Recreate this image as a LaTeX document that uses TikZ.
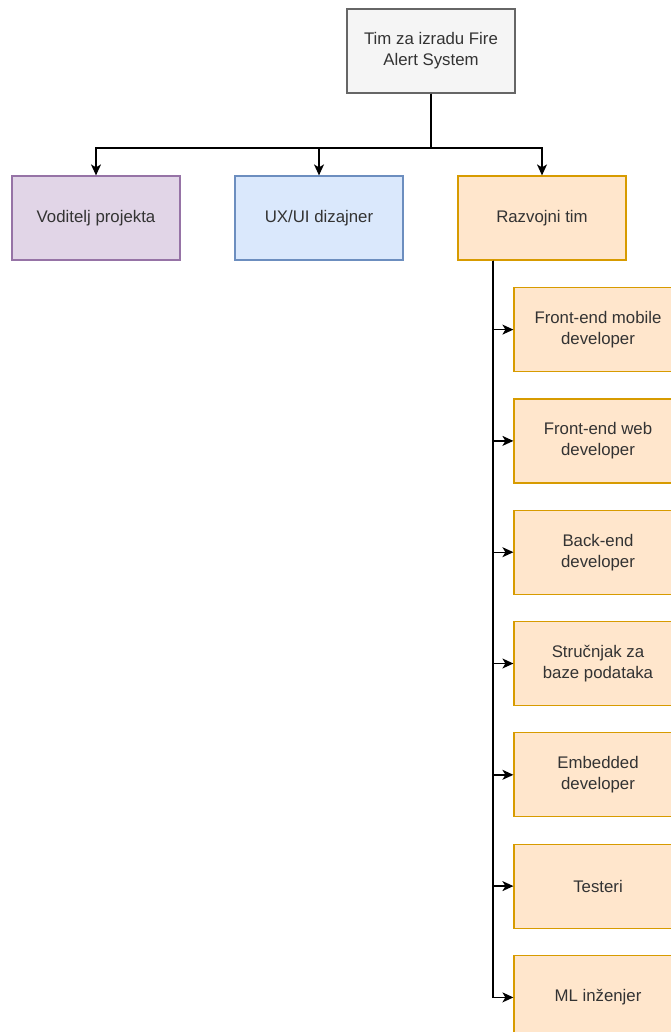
\documentclass[tikz,border=0pt]{standalone}
\usepackage{fontspec}
\setmainfont{Liberation Sans}
\usetikzlibrary{arrows.meta}
\definecolor{grayfill}{HTML}{F5F5F5}
\definecolor{graydraw}{HTML}{666666}
\definecolor{txt}{HTML}{333333}
\definecolor{purfill}{HTML}{E1D5E7}
\definecolor{purdraw}{HTML}{9673A6}
\definecolor{bluefill}{HTML}{DAE8FC}
\definecolor{bluedraw}{HTML}{6C8EBF}
\definecolor{orfill}{HTML}{FFE6CC}
\definecolor{ordraw}{HTML}{D79B00}
\tikzset{
  box/.style={rectangle, minimum width=168pt, minimum height=84pt, inner sep=0pt,
    line width=1.2pt, text=txt, align=center,
    font=\fontsize{16.8pt}{21pt}\selectfont},
  graybox/.style={box, fill=grayfill, draw=graydraw},
  purbox/.style={box, fill=purfill, draw=purdraw},
  bluebox/.style={box, fill=bluefill, draw=bluedraw},
  orbox/.style={box, fill=orfill, draw=ordraw},
  arr/.style={line width=1.4pt, draw=black, -{Stealth[length=11pt,width=10pt,inset=3pt]}},
  ln/.style={line width=1.4pt, draw=black}
}
\begin{document}
\begin{tikzpicture}[x=1pt,y=-1pt]
\useasboundingbox (0,0) rectangle (671,1032);
\clip (0,0) rectangle (671,1032);
\node[graybox] (top) at (431,51) {Tim za izradu Fire\\Alert System};
\node[purbox] (vod) at (96,218) {Voditelj projekta};
\node[bluebox] (ux) at (319,218) {UX/UI dizajner};
\node[orbox] (raz) at (542,218) {Razvojni tim};
\node[orbox] (s1) at (598,329.6) {Front-end mobile\\developer};
\node[orbox] (s2) at (598,440.9) {Front-end web\\developer};
\node[orbox] (s3) at (598,552.2) {Back-end\\developer};
\node[orbox] (s4) at (598,663.5) {Stručnjak za\\baze podataka};
\node[orbox] (s5) at (598,774.8) {Embedded\\developer};
\node[orbox] (s6) at (598,886.1) {Testeri};
\node[orbox] (s7) at (598,997.4) {ML inženjer};
\coordinate (bus) at (0,148);
\coordinate (spine) at (493,0);
\draw[arr] (top.south) -- (top.south |- bus) -| (vod.north);
\draw[arr] (top.south) -- (top.south |- bus) -| (ux.north);
\draw[arr] (top.south) -- (top.south |- bus) -| (raz.north);
\foreach \s in {s1,s2,s3,s4,s5,s6,s7}{
  \draw[arr] (raz.south -| spine) |- (\s.west);
}
\end{tikzpicture}
\end{document}
